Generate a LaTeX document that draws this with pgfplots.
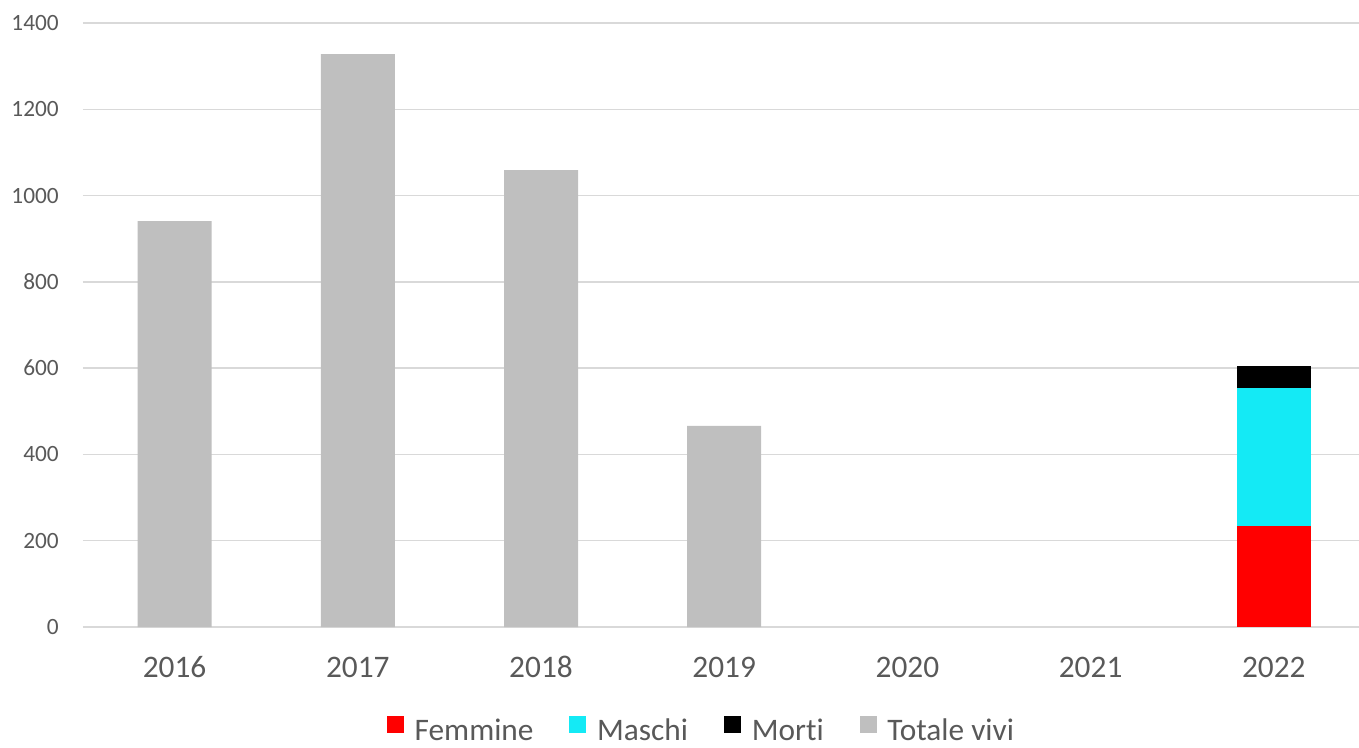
\documentclass[border=0pt]{standalone}
\usepackage{fontspec}
\setmainfont{Carlito}[Ligatures=NoCommon]
\usepackage{pgfplots}
\pgfplotsset{compat=1.18}

\definecolor{txt}{HTML}{595959}
\definecolor{gridc}{HTML}{D9D9D9}
\definecolor{femm}{HTML}{FF0000}
\definecolor{masc}{HTML}{14EAF5}
\definecolor{morti}{HTML}{000000}
\definecolor{vivi}{HTML}{BFBFBF}

\pgfplotsset{
  sq/.style={legend image code/.code={\fill[##1,draw=none] (0pt,-1.5pt) rectangle (12.75pt,11.25pt);}},
}

\begin{document}
\begin{tikzpicture}
\useasboundingbox (-62.25pt,-90pt) rectangle (957pt,470.25pt);
\begin{axis}[
    scale only axis,
    width=957pt, height=453pt,
    ybar stacked,
    bar width=55.5pt,
    xmin=-0.5, xmax=6.465,
    ymin=0, ymax=1400,
    xtick={0,1,2,3,4,5,6},
    xticklabels={2016,2017,2018,2019,2020,2021,2022},
    ytick={0,200,400,600,800,1000,1200,1400},
    ymajorgrids,
    grid style={gridc, line width=1.1pt},
    axis line style={draw=none},
    major tick length=0pt,
    /pgf/number format/assume math mode=true,
    /pgf/number format/1000 sep={},
    x tick label style={font=\fontsize{23.5pt}{28pt}\selectfont, text=txt, anchor=base, inner sep=0pt, yshift=-38pt},
    y tick label style={font=\fontsize{17.5pt}{21pt}\selectfont, text=txt, anchor=east, inner sep=0pt, xshift=-18pt},
    legend style={at={(0.485,-0.172)}, anchor=center, draw=none, fill=none,
        legend columns=4, font=\fontsize{23.5pt}{28pt}\selectfont, text=txt,
        /tikz/every odd column/.append style={column sep=6pt},
        /tikz/every even column/.append style={column sep=25pt},
        legend cell align=left, inner sep=0pt},
    clip=false,
]
\addplot[fill=femm, draw=none, sq] coordinates {(0,0) (1,0) (2,0) (3,0) (4,0) (5,0) (6,233)};
\addlegendentry{Femmine}
\addplot[fill=masc, draw=none, sq] coordinates {(0,0) (1,0) (2,0) (3,0) (4,0) (5,0) (6,321)};
\addlegendentry{Maschi}
\addplot[fill=morti, draw=none, sq] coordinates {(0,0) (1,0) (2,0) (3,0) (4,0) (5,0) (6,51)};
\addlegendentry{Morti}
\addplot[fill=vivi, draw=none, sq] coordinates {(0,941) (1,1328) (2,1059) (3,466) (4,0) (5,0) (6,0)};
\addlegendentry{Totale vivi}
\end{axis}
\end{tikzpicture}
\end{document}
